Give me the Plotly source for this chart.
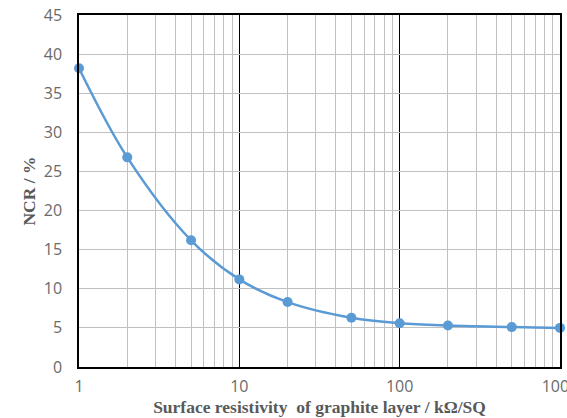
import plotly.graph_objects as go

resistivity = [1, 2, 5, 10, 20, 50, 100, 200, 500, 1000]
ncr = [38.2, 26.8, 16.2, 11.2, 8.3, 6.3, 5.6, 5.3, 5.1, 5.0]
x_ticks = [1, 10, 100, 1000]
y_ticks = [0, 5, 10, 15, 20, 25, 30, 35, 40, 45]

fig = go.Figure()
fig.add_trace(go.Scatter(
    x=resistivity, y=ncr, mode="lines+markers",
    line=dict(color="#5B9BD5", width=2.5, shape="spline", smoothing=1.0),
    marker=dict(color="#5B9BD5", size=10),
    cliponaxis=False, showlegend=False,
))

tickfont = dict(family="Open Sans, Liberation Sans, sans-serif", size=16, color="#6a6a6a")
titlefont = dict(family="Liberation Serif, Times New Roman, serif", size=17.5, color="#595959")

fig.update_layout(
    width=567, height=418,
    margin=dict(l=79, r=7, t=15, b=51),
    paper_bgcolor="white", plot_bgcolor="white",
    xaxis=dict(
        type="log", range=[0, 3], automargin=False,
        tickvals=x_ticks, ticktext=[str(v) for v in x_ticks],
        showgrid=True, gridcolor="black", gridwidth=1.3,
        minor=dict(showgrid=True, gridcolor="#c0c0c0", gridwidth=1, dtick="D1"),
        showline=True, linecolor="black", linewidth=1.5, mirror=True,
        ticks="", tickfont=tickfont, zeroline=False,
        ticklabeloverflow="allow", ticklabelstandoff=4,
        title=dict(text="<b>Surface resistivity  of graphite layer / kΩ/SQ</b>", font=titlefont, standoff=4),
    ),
    yaxis=dict(
        range=[0, 45], tickvals=y_ticks, automargin=False,
        showgrid=True, gridcolor="#c0c0c0", gridwidth=1,
        showline=True, linecolor="black", linewidth=1.5, mirror=True,
        ticks="", tickfont=tickfont, zeroline=False,
        ticklabelstandoff=12,
        title=dict(text="<b>NCR / %</b>", font=titlefont, standoff=4),
    ),
)

fig.write_html("out.html")
